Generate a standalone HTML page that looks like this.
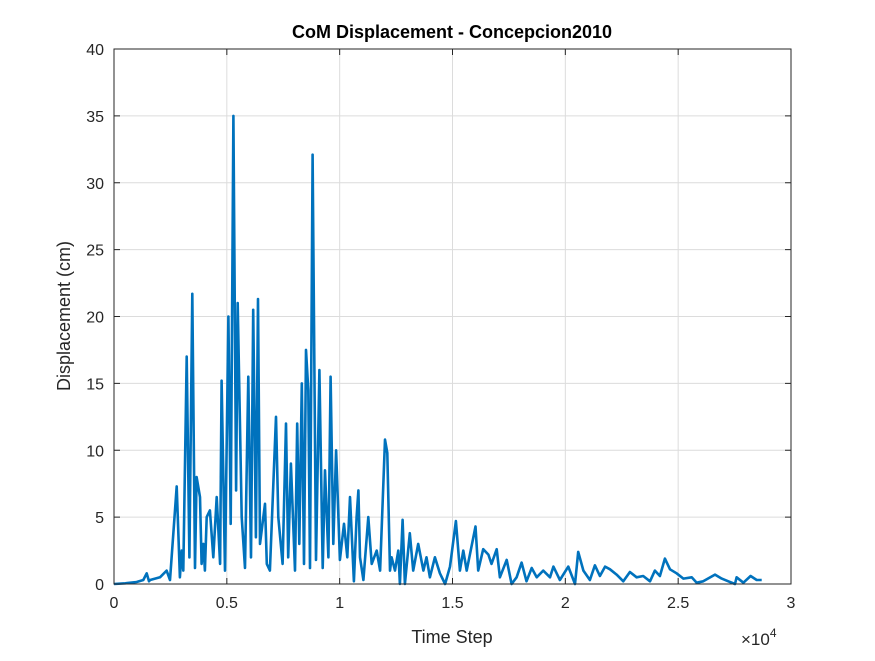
<!DOCTYPE html>
<html><head><meta charset="utf-8"><style>
body{margin:0;background:#fff;}
svg text{font-family:"Liberation Sans",Arial,sans-serif;fill:#262626;}
</style></head><body>
<svg id="chart" width="875" height="656" xmlns="http://www.w3.org/2000/svg">
<rect width="875" height="656" fill="#fff"/>
<rect x="114" y="49" width="677" height="535" fill="#fff"/>
<g id="grid"></g>
<path id="line" fill="none" stroke="#0072BD" stroke-width="2.6" stroke-linejoin="round"/>
<rect x="114" y="49" width="677" height="535" fill="none" stroke="#262626" stroke-width="1"/>
<g id="ticks"></g>
<text x="452" y="38" text-anchor="middle" font-size="18" font-weight="bold" style="fill:#000">CoM Displacement - Concepcion2010</text>
<text x="452" y="643" text-anchor="middle" font-size="18">Time Step</text>
<text transform="translate(70,316) rotate(-90)" text-anchor="middle" font-size="18">Displacement (cm)</text>
<text x="741" y="645" font-size="17">×10<tspan dy="-8" font-size="12">4</tspan></text>
</svg>
<script>
const times=[0,500,1000,1300,1450,1550,1600,2040,2330,2480,2780,2920,3000,3070,3220,3340,3470,3590,3660,3810,3880,3960,4030,4110,4250,4400,4550,4700,4770,4920,5070,5170,5290,5410,5480,5660,5805,5950,6070,6170,6290,6380,6470,6690,6770,6910,7180,7280,7470,7620,7720,7840,8020,8120,8210,8320,8420,8510,8610,8685,8800,8950,9100,9250,9350,9500,9600,9720,9840,10010,10190,10340,10460,10630,10750,10830,10900,11050,11270,11420,11640,11790,12010,12110,12230,12300,12450,12600,12670,12790,12890,13110,13260,13480,13710,13850,14000,14220,14440,14670,14890,15150,15330,15480,15630,16020,16140,16360,16590,16730,16960,17100,17400,17620,17840,18060,18280,18510,18730,19020,19320,19470,19760,20130,20430,20570,20800,21090,21310,21530,21760,21980,22270,22570,22860,23160,23450,23750,23970,24190,24410,24640,24930,25230,25600,25820,26110,26630,26930,27220,27520,27590,27890,28210,28480,28700];
const displacement=[0,0.05,0.15,0.3,0.8,0.2,0.3,0.5,1,0.3,7.3,0.5,2.5,1,17,2,21.7,1.2,8,6.5,1.5,3,1,5,5.5,2,6.5,1.5,15.2,1,20,4.5,35,7,21,5,1.2,15.5,2,20.5,3.5,21.3,3,6,1.5,1,12.5,5,1.5,12,2,9,1,12,3,15,1.5,17.5,14.5,1.2,32.1,1.8,16,1.2,8.5,2,15.5,3,10,1.8,4.5,2,6.5,0.2,5,7,2,0.3,5,1.5,2.5,1,10.8,9.8,1,2,1,2.5,0,4.8,0,3.8,1,3,1,2,0.5,2,0.8,0,1.3,4.7,1,2.5,1,4.3,1,2.6,2.2,1.5,2.6,0.5,1.8,0,0.5,1.6,0.2,1.2,0.5,1,0.5,1.3,0.3,1.3,0,2.4,1,0.3,1.4,0.6,1.3,1.1,0.7,0.2,0.9,0.5,0.6,0.2,1,0.6,1.9,1.1,0.8,0.4,0.5,0.1,0.2,0.7,0.4,0.2,0,0.5,0.1,0.6,0.3,0.3];
const xTicks=[0,5000,10000,15000,20000,25000,30000];
const xTickLabels=["0","0.5","1","1.5","2","2.5","3"];
const yTicks=[0,5,10,15,20,25,30,35,40];
const X0=114,X1=791,Y0=584,Y1=49,XMAX=30000,YMAX=40;
const sx=v=>X0+(X1-X0)*v/XMAX;
const sy=v=>Y0-(Y0-Y1)*v/YMAX;
const NS="http://www.w3.org/2000/svg";
const grid=document.getElementById('grid'),ticks=document.getElementById('ticks');
function mk(tag,attrs,parent){const e=document.createElementNS(NS,tag);for(const k in attrs)e.setAttribute(k,attrs[k]);parent.appendChild(e);return e;}
xTicks.forEach((t,i)=>{
  const x=sx(t);
  const g=mk('line',{x1:x,x2:x,y1:Y1,y2:Y0,stroke:'#dcdcdc','stroke-width':1},grid);
  
  
  mk('line',{x1:x,x2:x,y1:Y0,y2:Y0-6,stroke:'#262626'},ticks);
  mk('line',{x1:x,x2:x,y1:Y1,y2:Y1+6,stroke:'#262626'},ticks);
  const l=mk('text',{x:x,y:Y0+24,'text-anchor':'middle','font-size':16},ticks);
  l.textContent=xTickLabels[i];
  
  
});
yTicks.forEach(v=>{
  const y=sy(v);
  const g=mk('line',{x1:X0,x2:X1,y1:y,y2:y,stroke:'#dcdcdc','stroke-width':1},grid);
  
  
  mk('line',{x1:X0,x2:X0+6,y1:y,y2:y,stroke:'#262626'},ticks);
  mk('line',{x1:X1,x2:X1-6,y1:y,y2:y,stroke:'#262626'},ticks);
  const l=mk('text',{x:X0-10,y:y+6,'text-anchor':'end','font-size':16},ticks);
  l.textContent=String(v);
  
  
});
document.getElementById('line').setAttribute('d',times.map((t,i)=>(i?'L':'M')+sx(t).toFixed(1)+','+sy(displacement[i]).toFixed(1)).join(''));
</script>
</body></html>
